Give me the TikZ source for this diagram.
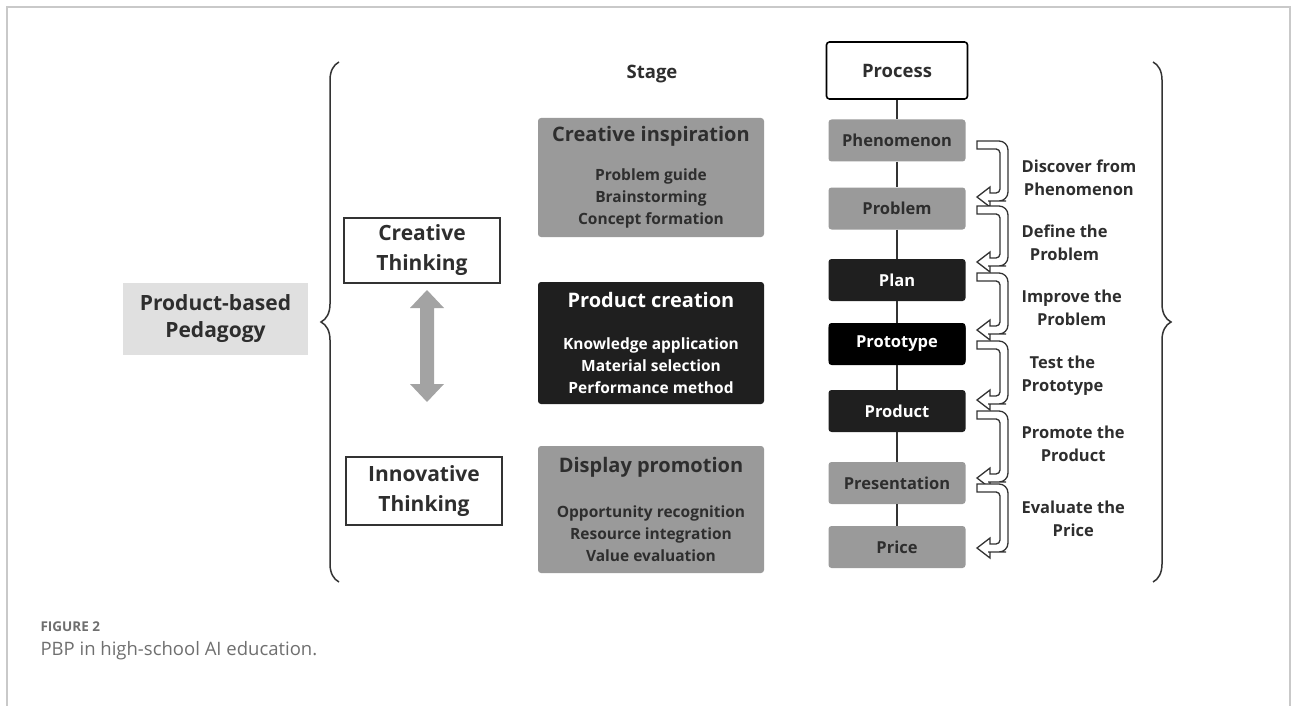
\documentclass[tikz,border=0pt]{standalone}
\usepackage{fontspec}
\setmainfont{Open Sans}
\usetikzlibrary{decorations.pathreplacing}

\definecolor{boxgray}{HTML}{9A9A9A}
\definecolor{boxdark}{HTML}{1F1F1F}
\definecolor{textdark}{HTML}{2E2E2E}
\definecolor{pbpgray}{HTML}{E0E0E0}
\definecolor{framegray}{HTML}{C9C9C9}
\definecolor{capgray}{HTML}{6F6F6F}
\definecolor{arrowgray}{HTML}{A3A3A3}
\definecolor{linedark}{HTML}{333333}

% hollow hook arrow on the right of the process column
\newcommand{\turnarrow}[2]{%
  \draw[line width=1.3pt, draw=linedark, fill=white]
    (977,{#1-4}) [rounded corners=9pt] -- (1008,{#1-4}) -- (1008,{#2+4})
    -- (997,{#2+4}) [sharp corners] -- (990,{#2+4}) -- (990,{#2+10})
    -- (977,#2) -- (990,{#2-10}) -- (990,{#2-4}) -- (993,{#2-4})
    [rounded corners=4pt] -- (1000,{#2-4}) -- (1000,{#1+4})
    -- (993,{#1+4}) [sharp corners] -- (977,{#1+4}) -- cycle;}

\begin{document}
\begin{tikzpicture}[x=1pt,y=-1pt,
  stagebox/.style={rounded corners=3pt, minimum width=226, align=center,
    font=\bfseries\fontsize{15.5}{22}\selectfont},
  procbox/.style={rounded corners=3pt, minimum width=137, minimum height=42,
    font=\bfseries\fontsize{16.5}{20}\selectfont},
  thinkbox/.style={draw=linedark, line width=1.4pt, minimum width=156,
    align=center, text=textdark, font=\bfseries\fontsize{21}{30}\selectfont},
  steplabel/.style={anchor=west, align=center, text=textdark,
    font=\bfseries\fontsize{16.5}{23}\selectfont},
  headlabel/.style={text=textdark, font=\bfseries\fontsize{18.5}{22}\selectfont},
  bracket/.style={decorate, decoration={brace, amplitude=18pt},
    line width=1.5pt, draw=linedark}]

  \useasboundingbox (0,0) rectangle (1293,706);

  % Draw the page frame
  \draw[framegray, line width=1.3pt] (7,706) -- (7,7) -- (1290,7) -- (1290,706);

  % Left part: pedagogy and the two kinds of thinking
  \node[fill=pbpgray, minimum width=185, minimum height=72, align=center,
    text=textdark, font=\bfseries\fontsize{21}{27}\selectfont]
    (pbp) at (215.5,319) {Product-based\\Pedagogy};
  \draw[bracket] (339,582) -- (339,62);

  \node[thinkbox, minimum height=65] (creative) at (422,250.5) {Creative\\Thinking};
  \node[thinkbox, minimum height=68] (innov) at (424,491) {Innovative\\Thinking};

  % Double arrow between the thinking boxes
  \coordinate (dtop) at (427,290);
  \fill[arrowgray] (dtop) -- ++(17,18) -- ++(-10,0) -- ++(0,76) -- ++(10,0)
    -- ++(-17,18) -- ++(-17,-18) -- ++(10,0) -- ++(0,-76) -- ++(-10,0) -- cycle;

  % Stage column
  \node[headlabel] (stage) at (652,74) {Stage};
  \node[stagebox, fill=boxgray, text=textdark, minimum height=119] (inspire) at (651,177.5)
    {{\fontsize{20}{24}\selectfont Creative inspiration}\\[16.5pt]
     Problem guide\\Brainstorming\\Concept formation};
  \node[stagebox, fill=boxdark, text=white, minimum height=122] (create) at (651,343)
    {{\fontsize{20}{24}\selectfont Product creation}\\[19.5pt]
     Knowledge application\\Material selection\\Performance method};
  \node[stagebox, fill=boxgray, text=textdark, minimum height=127] (display) at (651,509.5)
    {{\fontsize{20}{24}\selectfont Display promotion}\\[23.5pt]
     Opportunity recognition\\Resource integration\\Value evaluation};

  % Process column
  \node[headlabel, draw=black, line width=1.6pt, rounded corners=3pt,
    minimum width=141, minimum height=57] (proc) at (897,70.5) {Process};
  \foreach \n/\t/\y/\f/\c in {phen/Phenomenon/140.5/boxgray/textdark,
      prob/Problem/208.5/boxgray/textdark, plan/Plan/280/boxdark/white,
      proto/Prototype/344/black/white, prod/Product/411/boxdark/white,
      pres/Presentation/483/boxgray/textdark, price/Price/547/boxgray/textdark}
    \node[procbox, fill=\f, text=\c] (\n) at (897,\y) {\t};
  \node[procbox, fill=black, text=white, minimum height=38] at (proto) {Prototype};

  \draw[line width=2pt, draw=linedark] (proc) -- (phen) -- (prob) -- (plan)
    -- (proto) -- (prod) -- (pres) -- (price);

  % Hook arrows and their labels
  \foreach \ta/\tb in {145/197, 210/262, 277/330, 345/400, 415/478, 488/548}
    \turnarrow{\ta}{\tb};

  \foreach \y/\t [count=\i] in {178/Discover from\\Phenomenon,
      243/Define the\\Problem, 308/Improve the\\Problem,
      376/Test the\\Prototype, 444/Promote the\\Product,
      519/Evaluate the\\Price}
    \node[steplabel] (lab\i) at (1018,\y) {\t};

  \draw[bracket] (1153,62) -- (1153,582);

  % Caption
  \node[anchor=west, text=capgray, font=\bfseries\fontsize{13.5}{15}\selectfont]
    (figno) at (37,627) {FIGURE 2};
  \node[anchor=west, text=capgray, font=\fontsize{18.5}{22}\selectfont]
    (figcap) at (37,651) {PBP in high-school AI education.};

\end{tikzpicture}
\end{document}
